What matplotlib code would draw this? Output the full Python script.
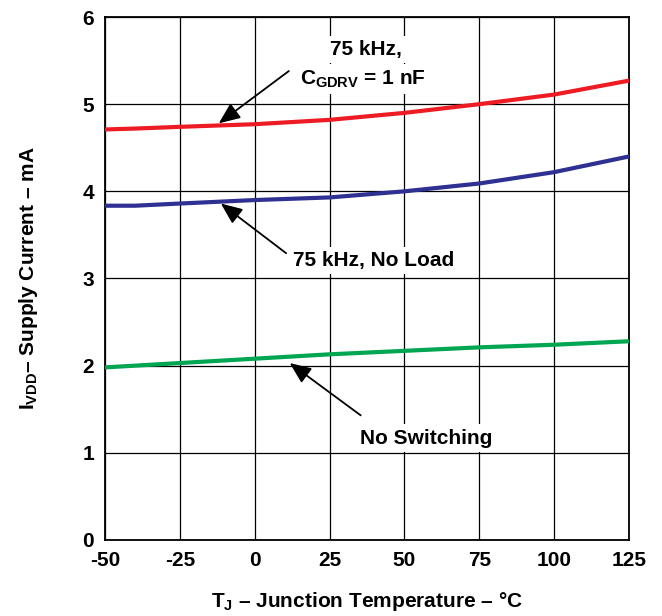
import matplotlib
matplotlib.use("Agg")
import matplotlib.pyplot as plt

plt.rcParams['font.family'] = 'Liberation Sans'
plt.rcParams['font.weight'] = 'bold'
plt.rcParams['axes.labelweight'] = 'bold'
plt.rcParams['axes.unicode_minus'] = False
plt.rcParams['mathtext.fontset'] = 'custom'
plt.rcParams['mathtext.rm'] = 'Liberation Sans:bold'
plt.rcParams['mathtext.it'] = 'Liberation Sans:bold'
plt.rcParams['mathtext.bf'] = 'Liberation Sans:bold'

# Junction temperature (degC) and supply current (mA)
temp = [-50, -40, -25, 0, 25, 50, 75, 100, 125]
i_75k_1nf = [4.71, 4.72, 4.74, 4.77, 4.82, 4.90, 5.00, 5.11, 5.27]
i_75k_noload = [3.835, 3.835, 3.86, 3.90, 3.93, 4.00, 4.09, 4.22, 4.40]
i_no_switch = [1.98, 2.00, 2.03, 2.08, 2.13, 2.17, 2.21, 2.24, 2.28]

x_ticks = [-50, -25, 0, 25, 50, 75, 100, 125]
y_ticks = [0, 1, 2, 3, 4, 5, 6]

fig = plt.figure(figsize=(6.62, 6.16), dpi=100)
ax = fig.add_axes([0.1586, 0.1234, 0.7915, 0.849])

ax.plot(temp, i_75k_1nf, color='#ED1C24', lw=3.0, zorder=3)
ax.plot(temp, i_75k_noload, color='#2E3192', lw=3.0, zorder=3)
ax.plot(temp, i_no_switch, color='#00A651', lw=3.0, zorder=3)

ax.set_xlim(-50, 125)
ax.set_ylim(0, 6)
ax.set_xticks(x_ticks)
ax.set_yticks(y_ticks)
ax.grid(True, color='black', lw=0.9)
ax.tick_params(length=0, labelsize=15, pad=8)
for s in ax.spines.values():
    s.set_linewidth(1.3)

ax.set_xlabel(r'$T_J$ – Junction Temperature – °C', fontsize=15, labelpad=14)
ax.set_ylabel(r'$I_{VDD}$– Supply Current – mA', fontsize=15, labelpad=30)

arrow = dict(arrowstyle='-|>,head_length=1.3,head_width=0.55', color='black',
             lw=1.3, mutation_scale=10, shrinkA=0, shrinkB=0)
box = dict(facecolor='white', edgecolor='none', pad=3)

ax.text(37, 5.63, '75 kHz,', fontsize=15, ha='center', va='center', bbox=box, zorder=4)
ax.text(36, 5.29, r'$C_{GDRV}$ = 1 nF', fontsize=15, ha='center', va='center', bbox=box, zorder=4)
ax.annotate('', xy=(-12, 4.78), xytext=(11.4, 5.38), arrowprops=arrow, zorder=5)

ax.annotate('', xy=(-11.3, 3.86), xytext=(10.5, 3.29), arrowprops=arrow, zorder=5)
ax.text(39.8, 3.21, '75 kHz, No Load', fontsize=15, ha='center', va='center',
        bbox=box, zorder=4)

ax.annotate('', xy=(11.7, 2.03), xytext=(35.4, 1.43), arrowprops=arrow, zorder=5)
ax.text(57.3, 1.17, 'No Switching', fontsize=15, ha='center', va='center',
        bbox=box, zorder=4)

fig.savefig('out.png', dpi=100)
